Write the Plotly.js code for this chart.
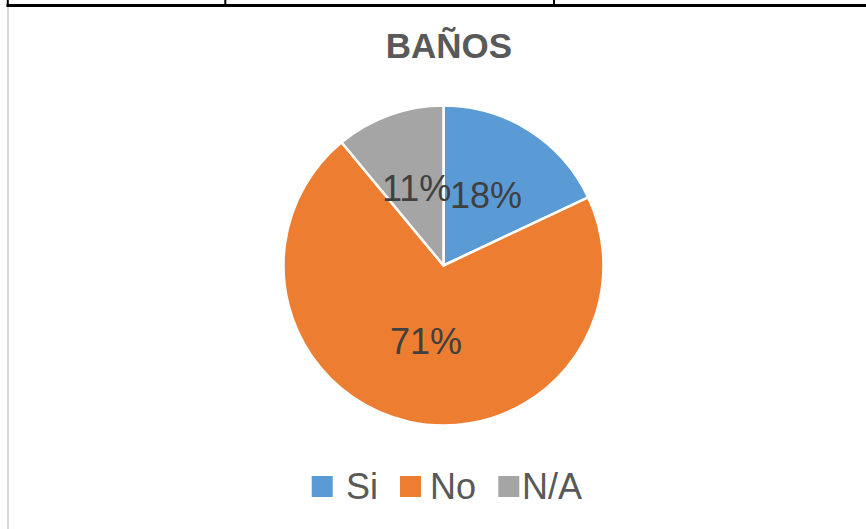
<!DOCTYPE html>
<html>
<head>
<meta charset="utf-8">
<script src="https://cdn.plot.ly/plotly-3.0.1.min.js"></script>
<style>
html,body{margin:0;padding:0;background:#fff;}
#chart{width:866px;height:529px;}
</style>
</head>
<body>
<div id="chart"></div>
<script>
// ---- data ----
var categories = ["Si", "No", "N/A"];
var values = [18, 71, 11];
var percentLabels = ["18%", "71%", "11%"];
var colors = ["#5B9BD5", "#ED7D31", "#A5A5A5"];
var chartTitle = "BAÑOS";

// ---- layout constants ----
var W = 866, H = 529;
var domX = [283.5 / W, 603.5 / W];
var domY = [1 - 425.5 / H, 1 - 105.5 / H];
var font = "Liberation Sans, Arial, sans-serif";

var cx = W * (domX[0] + domX[1]) / 2;
var cy = H * (1 - (domY[0] + domY[1]) / 2);
var r = Math.min(W * (domX[1] - domX[0]), H * (domY[1] - domY[0])) / 2;

var total = values.reduce(function (a, b) { return a + b; }, 0);
var annotations = [];
var cum = 0;
for (var i = 0; i < values.length; i++) {
  var th = 2 * Math.PI * (cum + values[i] / 2) / total;
  cum += values[i];
  var d = 0.5 * r;
  var px = cx + d * Math.sin(th);
  var py = cy - d * Math.cos(th);
  annotations.push({
    x: px / W, y: 1 - py / H, xref: "paper", yref: "paper",
    text: percentLabels[i], showarrow: false,
    xanchor: "center", yanchor: "middle", yshift: 2,
    font: {family: font, size: 36, color: "#404040"}
  });
}

// custom legend
var legendSquareX = [311.7, 400, 498.3];
var legendTextX = [345.5, 429.5, 521.5];
var legendY = 486.5;
var sq = 21;
var shapes = [];
for (var j = 0; j < categories.length; j++) {
  shapes.push({
    type: "rect", xref: "paper", yref: "paper",
    x0: legendSquareX[j] / W, x1: (legendSquareX[j] + sq) / W,
    y0: 1 - (legendY + sq / 2) / H, y1: 1 - (legendY - sq / 2) / H,
    fillcolor: colors[j], line: {width: 0}
  });
  annotations.push({
    x: legendTextX[j] / W, y: 1 - legendY / H, xref: "paper", yref: "paper",
    text: categories[j], showarrow: false, xanchor: "left", yanchor: "middle",
    xshift: -2,
    font: {family: font, size: 36, color: "#595959"}
  });
}

// page borders (table lines)
function hline(x0, x1, y, w, c) {
  return {type: "line", xref: "paper", yref: "paper", x0: x0 / W, x1: x1 / W,
    y0: 1 - y / H, y1: 1 - y / H, line: {color: c, width: w}};
}
function vline(x, y0, y1, w, c) {
  return {type: "line", xref: "paper", yref: "paper", x0: x / W, x1: x / W,
    y0: 1 - y0 / H, y1: 1 - y1 / H, line: {color: c, width: w}};
}
shapes.push(vline(8, 6, 529, 2, "#D9D9D9"));
shapes.push(hline(6.5, 866, 5.5, 2.8, "#000000"));
shapes.push(vline(7.8, 0, 6.5, 2, "#000000"));
shapes.push(vline(225.3, 0, 6.5, 2, "#000000"));
shapes.push(vline(554, 0, 6.5, 2, "#000000"));

var trace = {
  type: "pie",
  labels: categories,
  values: values,
  sort: false,
  direction: "clockwise",
  rotation: 0,
  marker: {colors: colors, line: {color: "#FFFFFF", width: 2.5}},
  textinfo: "none",
  hoverinfo: "none",
  showlegend: false,
  domain: {x: domX, y: domY}
};

var layout = {
  width: W, height: H,
  margin: {l: 0, r: 0, t: 0, b: 0},
  paper_bgcolor: "#FFFFFF",
  plot_bgcolor: "#FFFFFF",
  showlegend: false,
  title: {
    text: "<b>" + chartTitle + "</b>",
    x: 449 / W, xanchor: "center", xref: "paper",
    y: 1 - 46 / H, yanchor: "middle", yref: "paper",
    font: {family: font, size: 35, color: "#595959"}
  },
  annotations: annotations,
  shapes: shapes
};

Plotly.newPlot("chart", [trace], layout, {displayModeBar: false, staticPlot: true});
</script>
</body>
</html>
